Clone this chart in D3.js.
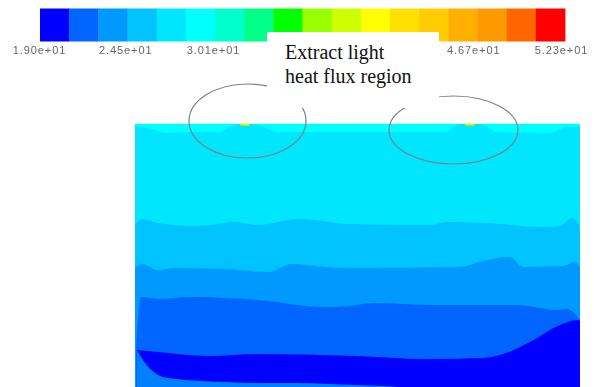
<!DOCTYPE html>
<html><head><meta charset="utf-8">
<script src="https://cdn.jsdelivr.net/npm/d3@7/dist/d3.min.js"></script>
<style>html,body{margin:0;padding:0;background:#fff}svg{display:block}</style>
</head><body><svg id="c" width="594" height="387"></svg>
<script>
const barColors=["#0000ff","#0066ff","#0099ff","#00c3ff","#00e6ff","#00ffff","#00ffcc","#00ff88","#00ff00","#99ff00","#ccff00","#ffff00","#ffe000","#ffcc00","#ffb000","#ff9900","#ff6600","#ff0000"];
const tickValues=[19.0,24.5,30.1,46.7,52.3];
const tickLabels=["1.90e+01","2.45e+01","3.01e+01","4.67e+01","5.23e+01"];
const contourE=[[0,1],[2,3],[13,4],[32,9],[52,8],[85,8],[95,3],[105,0],[115,0],[128,3],[142,8],[215,8],[312,8],[322,1],[330,0],[342,0],[348,1],[362,8],[415,9],[432,3],[445,3]];
const contourA=[[0,101],[7,95],[23,99],[57,102],[77,101],[100,98],[123,101],[163,95],[215,100],[295,101],[312,98],[365,100],[405,103],[425,102],[437,94],[445,103]];
const contourB=[[0,144],[7,140],[23,146],[40,144],[90,145],[133,148],[157,140],[190,143],[220,144],[325,143],[348,137],[375,133],[388,143],[428,142],[440,138],[445,143]];
const contourC=[[1,226],[6,173],[23,175],[57,173],[123,176],[190,183],[215,182],[238,179],[298,181],[382,181],[422,186],[432,185],[445,196]];
const coreTop=[[2,226],[23,228],[73,232],[123,230],[220,232],[292,235],[348,234],[368,230],[395,218],[425,201],[442,196],[445,197]];
const coreBottom=[[2,226],[10,239],[20,249],[33,254],[90,258],[123,259],[160,259],[220,261],[248,262],[268,263],[445,263]];
const hotSpots=[110,335];
const regions=[{cx:112.5,cy:-3,rx:58.5,ry:37},{cx:318.5,cy:6,rx:64.5,ry:34}];
const noteLines=["Extract light","heat flux region"];

const svg=d3.select("#c");
const defs=svg.append("defs");
defs.append("filter").attr("id","soft").append("feGaussianBlur").attr("stdDeviation",0.45);
defs.append("filter").attr("id","softText").append("feGaussianBlur").attr("stdDeviation",0.35);
defs.append("clipPath").attr("id","plot").append("rect").attr("x",135).attr("y",123.5).attr("width",445).attr("height",264);

// colour bar
const xBar=d3.scaleBand().domain(d3.range(barColors.length)).range([40,565]);
svg.append("g").attr("filter","url(#soft)").selectAll("rect").data(barColors).join("rect")
  .attr("x",(d,i)=>xBar(i)).attr("width",xBar.bandwidth()+0.4).attr("y",8.5).attr("height",33).attr("fill",d=>d);
const xTick=d3.scaleLinear().domain([19.0,52.3]).range([39,561]);
const axis=d3.axisBottom(xTick).tickValues(tickValues).tickSize(0).tickFormat((d,i)=>tickLabels[i]);
const ga=svg.append("g").attr("transform","translate(0,41)").attr("filter","url(#softText)").call(axis);
ga.select(".domain").remove();
ga.selectAll("text").attr("dy",0).attr("y",13).attr("font-family","Liberation Sans, sans-serif").attr("font-size",11).attr("letter-spacing",0.9).attr("fill","#666");

// contour field
const x=d3.scaleLinear().domain([0,445]).range([135,580]);
const y=d3.scaleLinear().domain([0,263]).range([124,387]);
const field=svg.append("g").attr("clip-path","url(#plot)").append("g").attr("filter","url(#soft)");
const below=d3.area().x(d=>x(d[0])).y0(y(270)).y1(d=>y(d[1])).curve(d3.curveMonotoneX);
field.append("rect").attr("x",x(0)).attr("y",y(-0.5)).attr("width",x(445)-x(0)).attr("height",y(270)-y(-0.5)).attr("fill",barColors[5]);
[[contourE,barColors[4]],[contourA,barColors[3]],[contourB,barColors[2]],[contourC,barColors[1]]].forEach(([d,c])=>{
  field.append("path").datum(d).attr("d",below).attr("fill",c);
});
field.append("path").datum(coreTop).attr("d",below).attr("fill",barColors[0]);
field.append("path").datum(coreBottom).attr("d",below).attr("fill","#0080ff");
field.selectAll("ellipse").data(hotSpots).join("ellipse")
  .attr("cx",d=>x(d)).attr("cy",y(0.4)).attr("rx",5).attr("ry",1.3).attr("fill","#d8f000");

// annotation
svg.selectAll("ellipse.region").data(regions).join("ellipse").attr("class","region")
  .attr("cx",d=>x(d.cx)).attr("cy",d=>y(d.cy)).attr("rx",d=>d.rx).attr("ry",d=>d.ry)
  .attr("fill","none").attr("stroke","#7a8282").attr("stroke-width",1.2);
svg.append("rect").attr("x",267).attr("y",32).attr("width",172).attr("height",76).attr("fill","#fff");
svg.selectAll("text.note").data(noteLines).join("text").attr("class","note")
  .attr("x",285).attr("y",(d,i)=>59+i*24).attr("font-family","Liberation Serif, serif").attr("font-size",20).attr("fill","#111").text(d=>d);
</script></body></html>
